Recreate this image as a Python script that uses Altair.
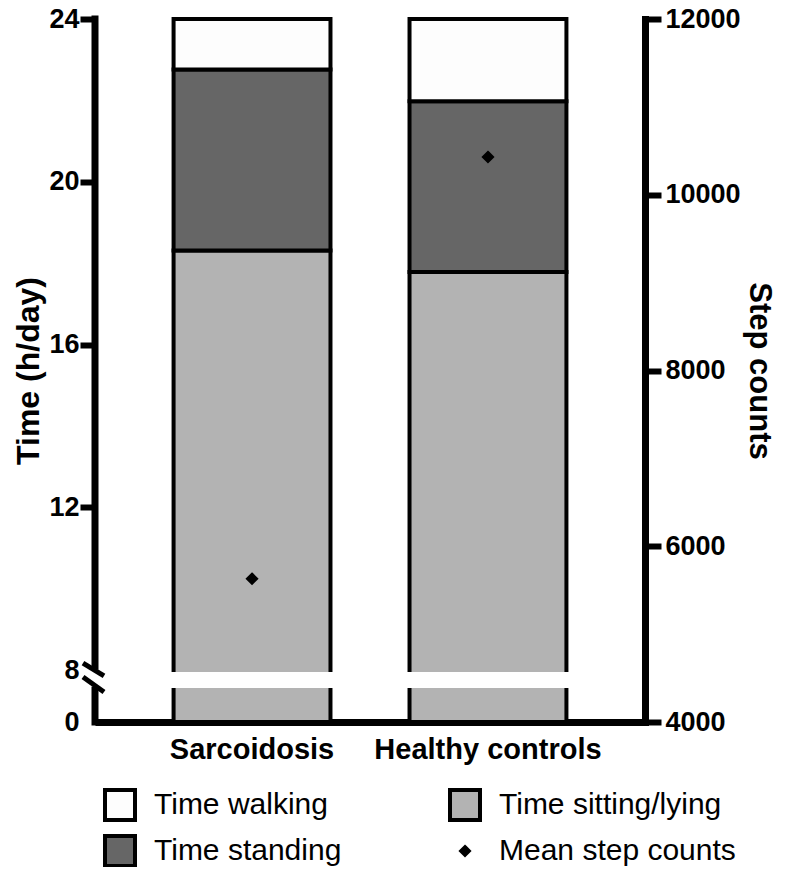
import altair as alt
import pandas as pd

# ---------------- data ----------------
groups = ["Sarcoidosis", "Healthy controls"]
sitting_h = [18.31, 17.78]
standing_h = [4.45, 4.20]
walking_h = [1.24, 2.02]
mean_steps = [5630, 10430]
left_ticks = [0, 8, 12, 16, 20, 24]
right_ticks = [4000, 6000, 8000, 10000, 12000]
legend_items = ["Time walking", "Time standing", "Time sitting/lying", "Mean step counts"]
legend_fills = ["#fdfdfd", "#666666", "#b3b3b3", "#000000"]

rows = []
for i, g in enumerate(groups):
    rows.append({"group": g, "activity": "Time sitting/lying", "hours": sitting_h[i], "order": 1})
    rows.append({"group": g, "activity": "Time standing", "hours": standing_h[i], "order": 2})
    rows.append({"group": g, "activity": "Time walking", "hours": walking_h[i], "order": 3})
bars_df = pd.DataFrame(rows)
steps_df = pd.DataFrame({"group": groups, "steps": mean_steps,
                         "activity": ["Mean step counts"] * len(groups)})
gap_df = pd.DataFrame({"group": groups, "lo": [5.25] * 2, "hi": [7.7] * 2})
axis_seg_df = pd.DataFrame({"a": [24, 4.9], "b": [8.1, 0]})
slash_df = pd.DataFrame({"a": [8.17, 6.92], "b": [7.08, 4.62]})

FONT = "Liberation Sans"
W, H = 550, 703
DIAMOND = "M0,-0.25L0.25,0L0,0.25L-0.25,0Z"

x_scale = alt.Scale(domain=groups, paddingInner=0.335, paddingOuter=0.333)
y_left = alt.Scale(domain=[0, 8, 24], range=[H, 651, 0], nice=False, zero=False)
y_right = alt.Scale(domain=[4000, 12000], nice=False, zero=False)
fill_scale = alt.Scale(domain=legend_items, range=legend_fills)
stroke_scale = alt.Scale(domain=legend_items, range=["black"] * 4)
shape_scale = alt.Scale(domain=legend_items, range=["square", "square", "square", DIAMOND])

legend_def = alt.Legend(
    title=None, orient="none", legendX=8, legendY=769, columns=2, direction="vertical",
    columnPadding=100, rowPadding=0, symbolSize=900, symbolStrokeColor="black",
    symbolStrokeWidth=4, symbolOpacity=1, labelFont=FONT, labelFontSize=30,
    labelColor="black", labelOffset=17, labelLimit=400, padding=0,
)

x_axis = alt.Axis(title=None, ticks=False, domain=True, domainColor="black",
                  domainWidth=7, labelFont=FONT, labelFontSize=29,
                  labelFontWeight="bold", labelColor="black", labelPadding=13,
                  labelAngle=0, labelLimit=400)

left_axis = alt.Axis(
    title="Time (h/day)", values=left_ticks, format="d", domain=False, grid=False,
    tickSize=15, tickWidth=6,
    tickColor={"condition": {"test": "datum.value <= 8", "value": "transparent"},
               "value": "black"},
    labelFont=FONT, labelFontSize=27, labelFontWeight="bold", labelColor="black",
    labelPadding=1, titleFont=FONT, titleFontSize=32, titleFontWeight="bold",
    titleColor="black", titlePadding=3,
)

right_axis = alt.Axis(
    orient="right", title="Step counts", values=right_ticks, format="d", grid=False,
    domainColor="black", domainWidth=7, domainCap="square",
    tickSize=16, tickWidth=6, tickColor="black",
    labelFont=FONT, labelFontSize=27, labelFontWeight="bold", labelColor="black",
    labelPadding=4, titleFont=FONT, titleFontSize=31, titleFontWeight="bold",
    titleColor="black", titlePadding=2,
)

bars = alt.Chart(bars_df).mark_bar(strokeWidth=4).encode(
    x=alt.X("group:N", scale=x_scale, sort=groups, axis=x_axis),
    y=alt.Y("hours:Q", stack="zero", scale=y_left, axis=left_axis),
    fill=alt.Fill("activity:N", scale=fill_scale, legend=legend_def),
    stroke=alt.Stroke("activity:N", scale=stroke_scale, legend=legend_def),
    order=alt.Order("order:Q"),
)

gap = alt.Chart(gap_df).mark_bar(color="white", size=168).encode(
    x=alt.X("group:N", scale=x_scale, sort=groups, axis=x_axis),
    y=alt.Y("lo:Q", scale=y_left, axis=left_axis),
    y2="hi:Q",
)

axis_line = alt.Chart(axis_seg_df).mark_rule(
    color="black", strokeWidth=7, strokeCap="square").encode(
    x=alt.value(0),
    y=alt.Y("a:Q", scale=y_left, axis=left_axis),
    y2="b:Q",
)

slashes = alt.Chart(slash_df).mark_rule(
    color="black", strokeWidth=5, strokeCap="butt").encode(
    x=alt.value(-12), x2=alt.value(9),
    y=alt.Y("a:Q", scale=y_left, axis=left_axis),
    y2="b:Q",
)

left_layer = alt.layer(bars, gap, axis_line, slashes)

points = alt.Chart(steps_df).mark_point(
    filled=True, size=900, strokeWidth=4, opacity=1).encode(
    x=alt.X("group:N", scale=x_scale, sort=groups, axis=x_axis),
    y=alt.Y("steps:Q", scale=y_right, axis=right_axis),
    fill=alt.Fill("activity:N", scale=fill_scale, legend=legend_def),
    stroke=alt.Stroke("activity:N", scale=stroke_scale, legend=legend_def),
    shape=alt.Shape("activity:N", scale=shape_scale, legend=legend_def),
)

chart = alt.layer(left_layer, points).resolve_scale(y="independent").properties(
    width=W, height=H,
    padding={"left": 87, "top": 11, "right": 133, "bottom": 145},
    autosize=alt.AutoSizeParams(type="none"),
).configure_view(strokeWidth=0)

chart.save("out.html", embed_options={"renderer": "svg", "actions": False})
